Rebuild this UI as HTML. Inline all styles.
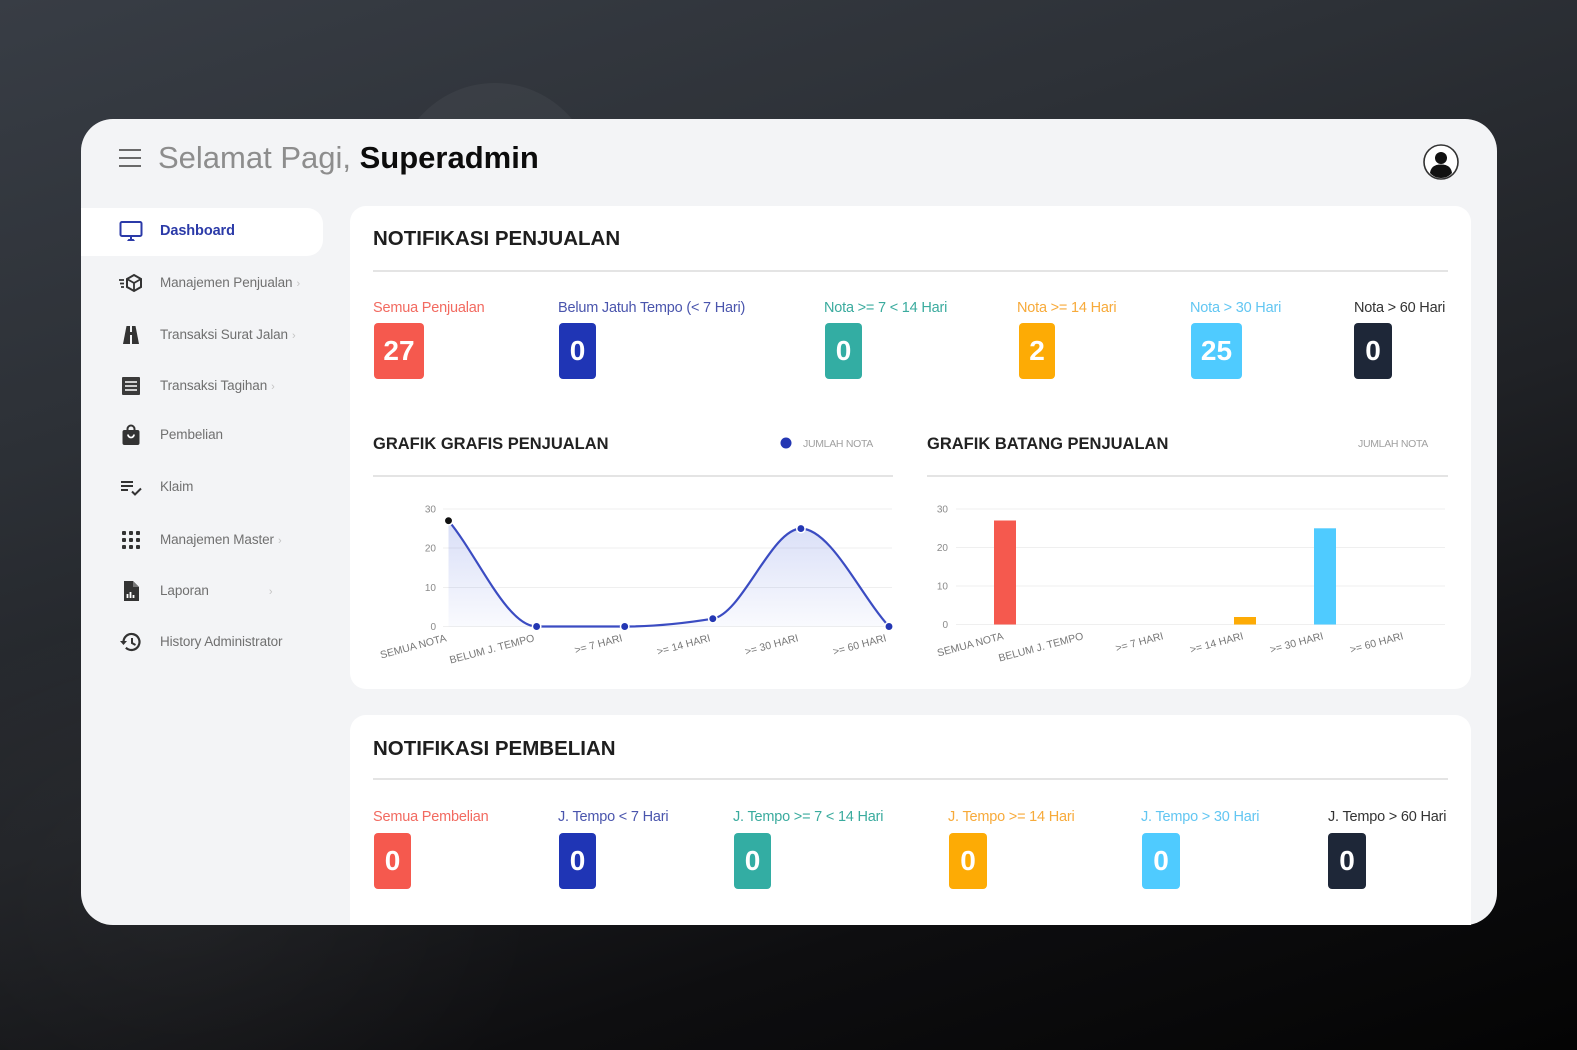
<!DOCTYPE html>
<html>
<head>
<meta charset="utf-8">
<style>
  html,body{margin:0;padding:0;width:1577px;height:1050px;overflow:hidden;background:#111214;}
  #root{position:relative;width:1577px;height:1050px;overflow:hidden;
    font-family:"Liberation Sans",Arial,sans-serif;
    background:
      radial-gradient(ellipse 520px 420px at 180px 900px, rgba(255,255,255,0.035), rgba(255,255,255,0) 70%),
      linear-gradient(162deg,#383d45 0%,#2d3137 28%,#202226 55%,#0e0e10 78%,#040404 100%);}
  .abs{position:absolute;}
  .bgc1{position:absolute;left:395px;top:83px;width:200px;height:200px;border-radius:50%;background:rgba(255,255,255,0.045);}
  .panel{position:absolute;left:81px;top:119px;width:1416px;height:806px;border-radius:32px;background:#f3f4f6;overflow:hidden;}
  .side-active{position:absolute;left:81px;top:208px;width:242px;height:48px;background:#fff;border-radius:0 16px 16px 0;}
  .nav{position:absolute;left:160px;font-size:13.5px;color:#707070;line-height:18px;white-space:nowrap;letter-spacing:-0.1px;}
  .nav .chev{color:#c4c4c4;font-size:11px;margin-left:4px;}
  .ico{position:absolute;left:119px;width:24px;height:24px;}
  .card{position:absolute;left:350px;width:1121px;background:#fff;border-radius:16px;}
  .title{position:absolute;font-weight:bold;color:#1e1e1e;white-space:nowrap;}
  .hr{position:absolute;height:2px;background:#e4e4e4;}
  .lbl{position:absolute;font-size:14.5px;line-height:18px;white-space:nowrap;letter-spacing:-0.2px;}
  .box{position:absolute;height:56px;border-radius:4px;color:#fff;font-weight:bold;font-size:28px;line-height:56px;text-align:center;}
</style>
</head>
<body>
<div id="root">
<div class="bgc1"></div>
<div class="panel"></div>

<!-- header -->
<div class="abs" style="left:119px;top:149px;width:22px;height:2px;background:#6a6a6a;"></div>
<div class="abs" style="left:119px;top:157px;width:22px;height:2px;background:#6a6a6a;"></div>
<div class="abs" style="left:119px;top:165px;width:22px;height:2px;background:#6a6a6a;"></div>
<div class="abs" style="left:158px;top:140px;font-size:31px;line-height:36px;white-space:nowrap;color:#8d8d8d;">Selamat Pagi, <span style="color:#0c0c0c;font-weight:bold;">Superadmin</span></div>
<svg class="abs" style="left:1422px;top:143px" width="38" height="38" viewBox="0 0 38 38">
  <circle cx="19" cy="19" r="17" fill="#fff" stroke="#333" stroke-width="1.6"/>
  <circle cx="19" cy="15" r="6" fill="#111"/>
  <path d="M8 30 C9 23 14 21.5 19 21.5 C24 21.5 29 23 30 30 C27 33.5 23 35 19 35 C15 35 11 33.5 8 30Z" fill="#111"/>
</svg>

<!-- sidebar -->
<div class="side-active"></div>
<svg class="ico" style="top:219px" viewBox="0 0 24 24"><rect x="1.5" y="3" width="21" height="14" rx="1.5" fill="none" stroke="#2b3aa8" stroke-width="2"/><path d="M12 17v3" stroke="#2b3aa8" stroke-width="2"/><path d="M8 22h8l-1.5-2h-5z" fill="#2b3aa8"/></svg>
<div class="nav" style="top:222px;color:#2b3aa8;font-weight:bold;font-size:14.5px;">Dashboard</div>

<svg class="ico" style="top:271px" viewBox="0 0 24 24"><path d="M0 9h5M1 12.5h4M2 16h3" stroke="#333" stroke-width="1.8"/><path d="M15 4l7 4v8l-7 4-7-4V8z" fill="none" stroke="#333" stroke-width="2"/><path d="M8 8l7 4 7-4M15 12v8" fill="none" stroke="#333" stroke-width="1.8"/></svg>
<div class="nav" style="top:274px;">Manajemen Penjualan<span class="chev">›</span></div>

<svg class="ico" style="top:323px" viewBox="0 0 24 24"><path d="M4 21L7.5 3H11v18z" fill="#333"/><path d="M13 3h3.5L20 21h-7z" fill="#333"/><rect x="9" y="9" width="6" height="3" fill="#333"/></svg>
<div class="nav" style="top:326px;">Transaksi Surat Jalan<span class="chev">›</span></div>

<svg class="ico" style="top:374px" viewBox="0 0 24 24"><rect x="3" y="3" width="18" height="18" rx="1" fill="#3a3a3a"/><path d="M6 8h12M6 12h12M6 16h12" stroke="#fff" stroke-width="1.6"/></svg>
<div class="nav" style="top:377px;">Transaksi Tagihan<span class="chev">›</span></div>

<svg class="ico" style="top:423px" viewBox="0 0 24 24"><path d="M8.5 7.5V6a3.5 3.5 0 0 1 7 0v1.5" fill="none" stroke="#333" stroke-width="2"/><rect x="3.5" y="7" width="17" height="15" rx="2" fill="#333"/><path d="M9 11.5a3 3 0 0 0 6 0" fill="none" stroke="#fff" stroke-width="1.8"/></svg>
<div class="nav" style="top:426px;">Pembelian</div>

<svg class="ico" style="top:475px" viewBox="0 0 24 24"><path d="M2 7h12M2 11h12M2 15h7" stroke="#333" stroke-width="2"/><path d="M13 16.5l3 3 6-6" fill="none" stroke="#333" stroke-width="2"/></svg>
<div class="nav" style="top:478px;">Klaim</div>

<svg class="ico" style="top:528px" viewBox="0 0 24 24"><g fill="#333"><rect x="3" y="3" width="4" height="4" rx="1"/><rect x="10" y="3" width="4" height="4" rx="1"/><rect x="17" y="3" width="4" height="4" rx="1"/><rect x="3" y="10" width="4" height="4" rx="1"/><rect x="10" y="10" width="4" height="4" rx="1"/><rect x="17" y="10" width="4" height="4" rx="1"/><rect x="3" y="17" width="4" height="4" rx="1"/><rect x="10" y="17" width="4" height="4" rx="1"/><rect x="17" y="17" width="4" height="4" rx="1"/></g></svg>
<div class="nav" style="top:531px;">Manajemen Master<span class="chev">›</span></div>

<svg class="ico" style="top:579px" viewBox="0 0 24 24"><path d="M5 2h9l6 6v14H5z" fill="#333"/><path d="M14 2v6h6" fill="#777"/><path d="M8.5 19v-4M11.5 19v-6M14.5 19v-3" stroke="#fff" stroke-width="1.8"/></svg>
<div class="nav" style="top:582px;">Laporan<span class="chev" style="margin-left:60px;">›</span></div>

<svg class="ico" style="top:630px" viewBox="0 0 24 24"><path d="M4.5 12a8 8 0 1 1 2.4 5.7" fill="none" stroke="#333" stroke-width="2.2"/><path d="M1 11h7l-3.5 4z" fill="#333"/><path d="M13 8v5l3.5 2" fill="none" stroke="#333" stroke-width="2"/></svg>
<div class="nav" style="top:633px;">History Administrator</div>

<!-- card 1 -->
<div class="card" style="top:206px;height:483px;"></div>
<div class="title" style="left:373px;top:226px;font-size:20.5px;line-height:26px;">NOTIFIKASI PENJUALAN</div>
<div class="hr" style="left:373px;top:270px;width:1075px;"></div>

<div class="lbl" style="left:373px;top:299px;color:#f26a60;">Semua Penjualan</div>
<div class="lbl" style="left:558px;top:299px;color:#4a55ad;">Belum Jatuh Tempo (&lt; 7 Hari)</div>
<div class="lbl" style="left:824px;top:299px;color:#3aab9e;">Nota &gt;= 7 &lt; 14 Hari</div>
<div class="lbl" style="left:1017px;top:299px;color:#f7aa3a;">Nota &gt;= 14 Hari</div>
<div class="lbl" style="left:1190px;top:299px;color:#62c6f2;">Nota &gt; 30 Hari</div>
<div class="lbl" style="left:1354px;top:299px;color:#333;">Nota &gt; 60 Hari</div>

<div class="box" style="left:374px;top:323px;width:50px;background:#f5594e;">27</div>
<div class="box" style="left:559px;top:323px;width:37px;background:#1f35b5;">0</div>
<div class="box" style="left:825px;top:323px;width:37px;background:#33ada3;">0</div>
<div class="box" style="left:1019px;top:323px;width:36px;background:#fdab05;">2</div>
<div class="box" style="left:1191px;top:323px;width:51px;background:#4fcbff;">25</div>
<div class="box" style="left:1354px;top:323px;width:38px;background:#1e2738;">0</div>

<!-- chart titles -->
<div class="title" style="left:373px;top:434px;font-size:16.5px;line-height:20px;color:#222;">GRAFIK GRAFIS PENJUALAN</div>
<div class="title" style="left:927px;top:434px;font-size:16.5px;line-height:20px;color:#222;">GRAFIK BATANG PENJUALAN</div>
<div class="hr" style="left:373px;top:475px;width:520px;"></div>
<div class="hr" style="left:927px;top:475px;width:521px;"></div>

<svg class="abs" style="left:360px;top:425px" width="1100" height="250" viewBox="360 425 1100 250">
  <defs>
    <linearGradient id="ga" x1="0" y1="0" x2="0" y2="1">
      <stop offset="0" stop-color="#3d5ad8" stop-opacity="0.2"/>
      <stop offset="1" stop-color="#3d5ad8" stop-opacity="0.03"/>
    </linearGradient>
  </defs>
  <!-- legends -->
  <circle cx="786" cy="443" r="5.5" fill="#2437b3"/>
  <text x="803" y="447" font-family="Liberation Sans, Arial, sans-serif" font-size="10.5" fill="#a0a0a0" letter-spacing="-0.3">JUMLAH NOTA</text>
  <text x="1358" y="447" font-family="Liberation Sans, Arial, sans-serif" font-size="10.5" fill="#a0a0a0" letter-spacing="-0.3">JUMLAH NOTA</text>

  <!-- left chart grid -->
  <g stroke="#efefef" stroke-width="1">
    <line x1="443" y1="509" x2="892" y2="509"/>
    <line x1="443" y1="548" x2="892" y2="548"/>
    <line x1="443" y1="587.5" x2="892" y2="587.5"/>
    <line x1="443" y1="626.5" x2="892" y2="626.5"/>
  </g>
  <g font-family="Liberation Sans, Arial, sans-serif" font-size="10" fill="#8a8a8a" text-anchor="end">
    <text x="436" y="512.5">30</text>
    <text x="436" y="551.5">20</text>
    <text x="436" y="591">10</text>
    <text x="436" y="630">0</text>
  </g>
  <path d="M448.5 520.7 C477.9 556 507.2 626.5 536.6 626.5 C566 626.5 595.3 626.5 624.7 626.5 C654.1 626.5 683.4 623.5 712.8 618.7 C742.2 613.9 771.5 528.6 800.9 528.6 C830.3 528.6 859.6 593.9 889 626.5 L889 626.5 L448.5 626.5 Z" fill="url(#ga)"/>
  <path d="M448.5 520.7 C477.9 556 507.2 626.5 536.6 626.5 C566 626.5 595.3 626.5 624.7 626.5 C654.1 626.5 683.4 623.5 712.8 618.7 C742.2 613.9 771.5 528.6 800.9 528.6 C830.3 528.6 859.6 593.9 889 626.5" fill="none" stroke="#3b4cc2" stroke-width="2.2"/>
  <g stroke="#fff" stroke-width="1.5" fill="#2437b3">
    <circle cx="536.6" cy="626.5" r="4.2"/>
    <circle cx="624.7" cy="626.5" r="4.2"/>
    <circle cx="712.8" cy="618.7" r="4.2"/>
    <circle cx="800.9" cy="528.6" r="4.2"/>
    <circle cx="889" cy="626.5" r="4.2"/>
    <circle cx="448.5" cy="520.7" r="4.2" fill="#111"/>
  </g>
  <g font-family="Liberation Sans, Arial, sans-serif" font-size="10.5" fill="#777" text-anchor="end">
    <text x="447" y="641" transform="rotate(-15 447 641)">SEMUA NOTA</text>
    <text x="535" y="641" transform="rotate(-15 535 641)">BELUM J. TEMPO</text>
    <text x="623" y="641" transform="rotate(-15 623 641)">&gt;= 7 HARI</text>
    <text x="711" y="641" transform="rotate(-15 711 641)">&gt;= 14 HARI</text>
    <text x="799" y="641" transform="rotate(-15 799 641)">&gt;= 30 HARI</text>
    <text x="887" y="641" transform="rotate(-15 887 641)">&gt;= 60 HARI</text>
  </g>

  <!-- right chart -->
  <g stroke="#efefef" stroke-width="1">
    <line x1="956" y1="509" x2="1445" y2="509"/>
    <line x1="956" y1="547.5" x2="1445" y2="547.5"/>
    <line x1="956" y1="586" x2="1445" y2="586"/>
    <line x1="956" y1="624.5" x2="1445" y2="624.5"/>
  </g>
  <g font-family="Liberation Sans, Arial, sans-serif" font-size="10" fill="#8a8a8a" text-anchor="end">
    <text x="948" y="512.5">30</text>
    <text x="948" y="551">20</text>
    <text x="948" y="589.5">10</text>
    <text x="948" y="628">0</text>
  </g>
  <rect x="994" y="520.5" width="22" height="104" fill="#f5594e"/>
  <rect x="1234" y="617" width="22" height="7.5" fill="#fdab05"/>
  <rect x="1314" y="528.3" width="22" height="96.2" fill="#4fcbff"/>
  <g font-family="Liberation Sans, Arial, sans-serif" font-size="10.5" fill="#777" text-anchor="end">
    <text x="1004" y="639" transform="rotate(-15 1004 639)">SEMUA NOTA</text>
    <text x="1084" y="639" transform="rotate(-15 1084 639)">BELUM J. TEMPO</text>
    <text x="1164" y="639" transform="rotate(-15 1164 639)">&gt;= 7 HARI</text>
    <text x="1244" y="639" transform="rotate(-15 1244 639)">&gt;= 14 HARI</text>
    <text x="1324" y="639" transform="rotate(-15 1324 639)">&gt;= 30 HARI</text>
    <text x="1404" y="639" transform="rotate(-15 1404 639)">&gt;= 60 HARI</text>
  </g>
</svg>

<!-- card 2 -->
<div class="card" style="top:715px;height:210px;border-radius:16px 16px 0 0;"></div>
<div class="title" style="left:373px;top:736px;font-size:20.5px;line-height:26px;">NOTIFIKASI PEMBELIAN</div>
<div class="hr" style="left:373px;top:778px;width:1075px;"></div>

<div class="lbl" style="left:373px;top:808px;color:#f26a60;">Semua Pembelian</div>
<div class="lbl" style="left:558px;top:808px;color:#4a55ad;">J. Tempo &lt; 7 Hari</div>
<div class="lbl" style="left:733px;top:808px;color:#3aab9e;">J. Tempo &gt;= 7 &lt; 14 Hari</div>
<div class="lbl" style="left:948px;top:808px;color:#f7aa3a;">J. Tempo &gt;= 14 Hari</div>
<div class="lbl" style="left:1141px;top:808px;color:#62c6f2;">J. Tempo &gt; 30 Hari</div>
<div class="lbl" style="left:1328px;top:808px;color:#333;">J. Tempo &gt; 60 Hari</div>

<div class="box" style="left:374px;top:833px;width:37px;background:#f5594e;">0</div>
<div class="box" style="left:559px;top:833px;width:37px;background:#1f35b5;">0</div>
<div class="box" style="left:734px;top:833px;width:37px;background:#33ada3;">0</div>
<div class="box" style="left:949px;top:833px;width:38px;background:#fdab05;">0</div>
<div class="box" style="left:1142px;top:833px;width:38px;background:#4fcbff;">0</div>
<div class="box" style="left:1328px;top:833px;width:38px;background:#1e2738;">0</div>
</div>
</body>
</html>
